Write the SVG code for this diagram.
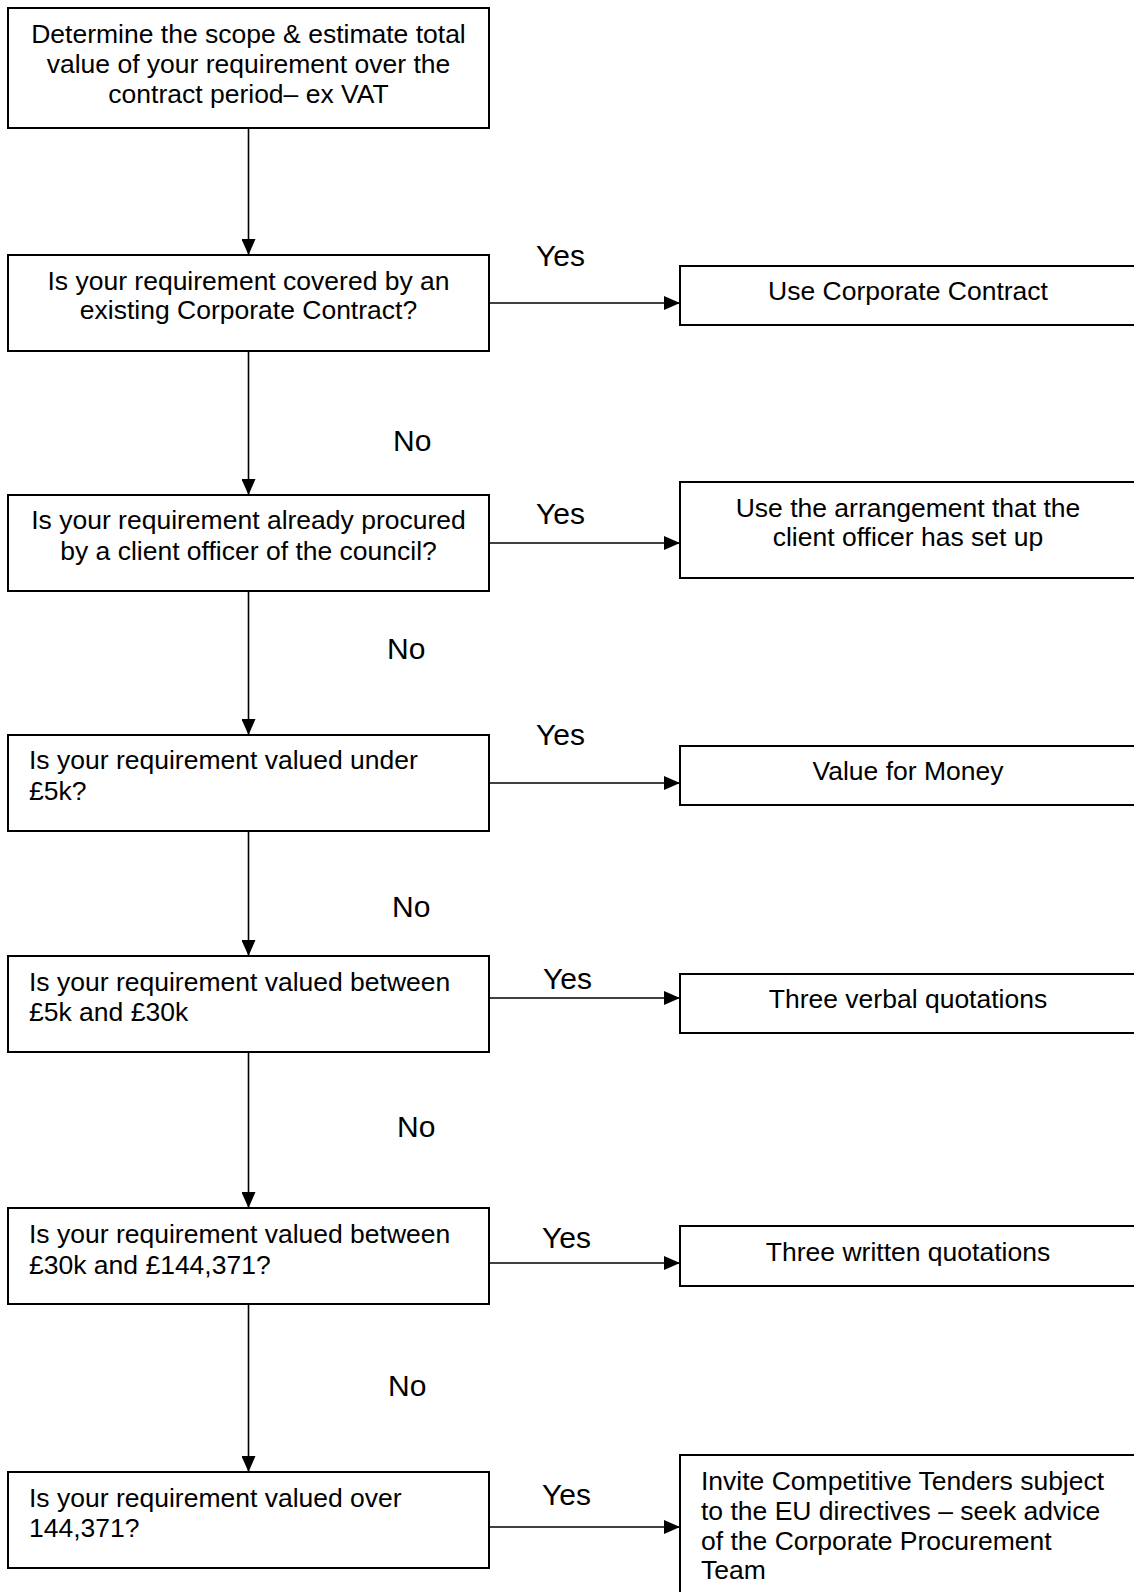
<svg xmlns="http://www.w3.org/2000/svg" width="1134" height="1592" viewBox="0 0 1134 1592">
<style>
.box{fill:#fff;stroke:#000;stroke-width:2}
.t{font-family:"Liberation Sans",Arial,sans-serif;font-size:26.5px;fill:#000}
.c{text-anchor:middle}
.lbl{font-family:"Liberation Sans",Arial,sans-serif;font-size:30px;fill:#000}
.ln{stroke:#000;stroke-width:1.6;fill:none}
</style>
<defs>
<marker id="ah" markerWidth="16" markerHeight="14" refX="16" refY="7" orient="auto" markerUnits="userSpaceOnUse">
<path d="M0,0 L16,7 L0,14 Z" fill="#000"/>
</marker>
</defs>
<rect width="1134" height="1592" fill="#fff"/>
<g id="connectors">
<line class="ln" x1="248.5" y1="128" x2="248.5" y2="255" marker-end="url(#ah)"/>
<line class="ln" x1="248.5" y1="351" x2="248.5" y2="495" marker-end="url(#ah)"/>
<line class="ln" x1="248.5" y1="591" x2="248.5" y2="735" marker-end="url(#ah)"/>
<line class="ln" x1="248.5" y1="831" x2="248.5" y2="956" marker-end="url(#ah)"/>
<line class="ln" x1="248.5" y1="1052" x2="248.5" y2="1208" marker-end="url(#ah)"/>
<line class="ln" x1="248.5" y1="1304" x2="248.5" y2="1472" marker-end="url(#ah)"/>
<line class="ln" x1="489" y1="303" x2="680" y2="303" marker-end="url(#ah)"/>
<line class="ln" x1="489" y1="543" x2="680" y2="543" marker-end="url(#ah)"/>
<line class="ln" x1="489" y1="783" x2="680" y2="783" marker-end="url(#ah)"/>
<line class="ln" x1="489" y1="998" x2="680" y2="998" marker-end="url(#ah)"/>
<line class="ln" x1="489" y1="1263" x2="680" y2="1263" marker-end="url(#ah)"/>
<line class="ln" x1="489" y1="1527" x2="680" y2="1527" marker-end="url(#ah)"/>
<text class="lbl" x="536" y="266">Yes</text>
<text class="lbl" x="536" y="524">Yes</text>
<text class="lbl" x="536" y="745">Yes</text>
<text class="lbl" x="543" y="989">Yes</text>
<text class="lbl" x="542" y="1248">Yes</text>
<text class="lbl" x="542" y="1505">Yes</text>
<text class="lbl" x="393" y="451">No</text>
<text class="lbl" x="387" y="659">No</text>
<text class="lbl" x="392" y="917">No</text>
<text class="lbl" x="397" y="1137">No</text>
<text class="lbl" x="388" y="1396">No</text>
</g>
<g id="n1">
<rect class="box" x="8" y="8" width="481" height="120"/>
<text class="t c" x="248.5" y="43">Determine the scope &amp; estimate total</text>
<text class="t c" x="248.5" y="73">value of your requirement over the</text>
<text class="t c" x="248.5" y="103">contract period– ex VAT</text>
</g>
<g id="n2">
<rect class="box" x="8" y="255" width="481" height="96"/>
<text class="t c" x="248.5" y="290">Is your requirement covered by an</text>
<text class="t c" x="248.5" y="319">existing Corporate Contract?</text>
</g>
<g id="n3">
<rect class="box" x="8" y="495" width="481" height="96"/>
<text class="t c" x="248.5" y="529">Is your requirement already procured</text>
<text class="t c" x="248.5" y="560">by a client officer of the council?</text>
</g>
<g id="n4">
<rect class="box" x="8" y="735" width="481" height="96"/>
<text class="t" x="29" y="769">Is your requirement valued under</text>
<text class="t" x="29" y="800">£5k?</text>
</g>
<g id="n5">
<rect class="box" x="8" y="956" width="481" height="96"/>
<text class="t" x="29" y="991">Is your requirement valued between</text>
<text class="t" x="29" y="1021">£5k and £30k</text>
</g>
<g id="n6">
<rect class="box" x="8" y="1208" width="481" height="96"/>
<text class="t" x="29" y="1243">Is your requirement valued between</text>
<text class="t" x="29" y="1274">£30k and £144,371?</text>
</g>
<g id="n7">
<rect class="box" x="8" y="1472" width="481" height="96"/>
<text class="t" x="29" y="1507">Is your requirement valued over</text>
<text class="t" x="29" y="1537">144,371?</text>
</g>
<g id="r1">
<rect class="box" x="680" y="266" width="460" height="59"/>
<text class="t c" x="908" y="300">Use Corporate Contract</text>
</g>
<g id="r2">
<rect class="box" x="680" y="482" width="460" height="96"/>
<text class="t c" x="908" y="517">Use the arrangement that the</text>
<text class="t c" x="908" y="546">client officer has set up</text>
</g>
<g id="r3">
<rect class="box" x="680" y="746" width="460" height="59"/>
<text class="t c" x="908" y="780">Value for Money</text>
</g>
<g id="r4">
<rect class="box" x="680" y="974" width="460" height="59"/>
<text class="t c" x="908" y="1008">Three verbal quotations</text>
</g>
<g id="r5">
<rect class="box" x="680" y="1226" width="460" height="60"/>
<text class="t c" x="908" y="1261">Three written quotations</text>
</g>
<g id="r6">
<rect class="box" x="680" y="1455" width="460" height="160"/>
<text class="t" x="701" y="1490">Invite Competitive Tenders subject</text>
<text class="t" x="701" y="1520">to the EU directives – seek advice</text>
<text class="t" x="701" y="1550">of the Corporate Procurement</text>
<text class="t" x="701" y="1579">Team</text>
</g>
</svg>
